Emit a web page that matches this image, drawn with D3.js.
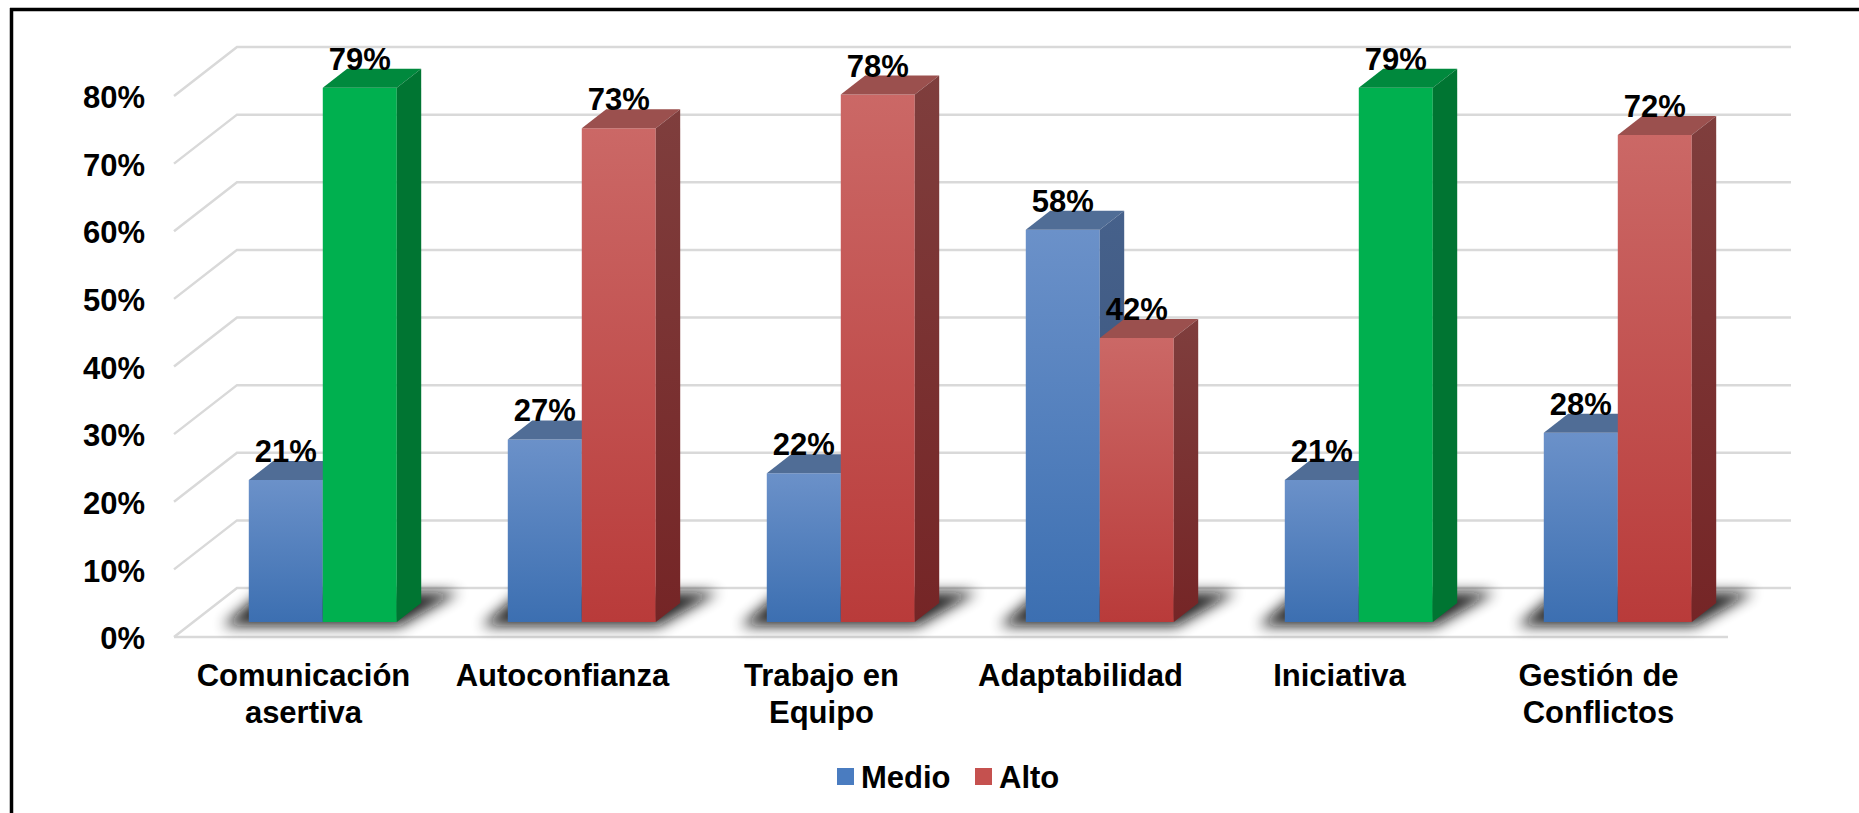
<!DOCTYPE html>
<html>
<head>
<meta charset="utf-8">
<script src="https://cdn.jsdelivr.net/npm/d3@7"></script>
<style>
  html, body { margin: 0; padding: 0; background: #fff; }
  svg { display: block; }
  text { font-family: "Liberation Sans", Arial, sans-serif; font-weight: bold; fill: #000; }
</style>
</head>
<body>
<svg id="chart" width="1859" height="813"></svg>
<script>
// ---- data ----
const categories = ["Comunicación asertiva", "Autoconfianza", "Trabajo en Equipo", "Adaptabilidad", "Iniciativa", "Gestión de Conflictos"];
const seriesNames = ["Medio", "Alto"];
const medio = [21, 27, 22, 58, 21, 28];
const alto  = [79, 73, 78, 42, 79, 72];
const yTicks = [0, 10, 20, 30, 40, 50, 60, 70, 80];

// ---- layout ----
const W = 1859, H = 813;
const FS = 31;
const svg = d3.select("#chart");
const DX = 63, DY = -49;          // full floor depth vector
const F1 = 15 / 49, F2 = 34 / 49; // bar front / back depth fractions

const x = d3.scaleBand().domain(categories).range([174, 1728]).paddingInner(0).paddingOuter(0);
const xs = d3.scaleBand().domain(seriesNames).range([0, x.bandwidth()]).paddingInner(0).paddingOuter(0.75);
const y = d3.scaleLinear().domain([0, 80]).range([637, 96]);

const P = (xf, v, f) => [xf + f * DX, y(v) + f * DY];
const poly = pts => pts.map(p => p.join(",")).join(" ");

// ---- defs ----
const defs = svg.append("defs");
function grad(id, c1, c2) {
  const g = defs.append("linearGradient").attr("id", id).attr("x1", 0).attr("y1", 0).attr("x2", 0).attr("y2", 1);
  g.append("stop").attr("offset", "0%").attr("stop-color", c1);
  g.append("stop").attr("offset", "100%").attr("stop-color", c2);
}
grad("gBlueFront", "#6b91c9", "#3c6fb1");
grad("gBlueSide", "#46618b", "#385279");
grad("gRedFront", "#cb6866", "#b93b3a");
grad("gRedSide", "#7f3e3d", "#752526");
const blur = defs.append("filter").attr("id", "shadowBlur").attr("x", "-50%").attr("y", "-100%").attr("width", "200%").attr("height", "300%");
blur.append("feGaussianBlur").attr("stdDeviation", 7);

// ---- frame ----
svg.append("line").attr("x1", 10).attr("y1", 9.5).attr("x2", W).attr("y2", 9.5).attr("stroke", "#000").attr("stroke-width", 3.5);
svg.append("line").attr("x1", 11.5).attr("y1", 8).attr("x2", 11.5).attr("y2", H).attr("stroke", "#000").attr("stroke-width", 3.5);

// ---- grid (back wall + left side wall + floor) ----
const grid = svg.append("g").attr("stroke", "#d9d9d9").attr("stroke-width", 2.5).attr("fill", "none");
const x0 = x.range()[0], x1 = x.range()[1];
yTicks.forEach(t => {
  const a = P(x0, t, 0), b = P(x0, t, 1), c = P(x1, t, 1);
  grid.append("polyline").attr("points", poly([a, b, c]));
});
{
  const a = P(x0, 0, 0), b = P(x1, 0, 0);
  grid.append("line").attr("x1", a[0]).attr("y1", a[1]).attr("x2", b[0]).attr("y2", b[1]);
}

// ---- y tick labels ----
svg.append("g").selectAll("text").data(yTicks).join("text")
  .attr("x", 145).attr("y", d => y(d) + 1).attr("dy", "0.36em")
  .attr("text-anchor", "end").attr("font-size", FS)
  .text(d => d + "%");

// ---- bars ----
const maxAlto = d3.max(alto);
const rows = categories.map((c, i) => ({ cat: c, values: [medio[i], alto[i]] }));

const shadowG = svg.append("g");
const barsG = svg.append("g");
const labelsG = svg.append("g");

rows.forEach(r => {
  const px0 = x(r.cat) + xs(seriesNames[0]);
  const px1 = x(r.cat) + xs(seriesNames[1]) + xs.bandwidth();
  // shadow on the floor
  const fl = P(px0, 0, F1), fr = P(px1, 0, F1), br = P(px1, 0, F2), bl = P(px0, 0, F2);
  shadowG.append("polygon")
    .attr("points", poly([[fl[0] - 26, fl[1] + 4], [fr[0] + 3, fr[1] + 4], [br[0] + 38, br[1] - 11], [bl[0] - 11, bl[1] - 11]]))
    .attr("fill", "#111").attr("opacity", 0.9).attr("filter", "url(#shadowBlur)");

  r.values.forEach((v, si) => {
    const s = seriesNames[si];
    const bx = x(r.cat) + xs(s), w = xs.bandwidth();
    let front, top, side;
    if (s === "Medio") { front = "url(#gBlueFront)"; top = "#506d96"; side = "url(#gBlueSide)"; }
    else if (v === maxAlto) { front = "#00b04f"; top = "#00893d"; side = "#007532"; }
    else { front = "url(#gRedFront)"; top = "#9b504e"; side = "url(#gRedSide)"; }
    const g = barsG.append("g");
    g.append("polygon").attr("points", poly([P(bx, 0, F1), P(bx + w, 0, F1), P(bx + w, v, F1), P(bx, v, F1)])).attr("fill", front);
    g.append("polygon").attr("points", poly([P(bx, v, F1), P(bx + w, v, F1), P(bx + w, v, F2), P(bx, v, F2)])).attr("fill", top);
    g.append("polygon").attr("points", poly([P(bx + w, 0, F1), P(bx + w, 0, F2), P(bx + w, v, F2), P(bx + w, v, F1)])).attr("fill", side);
    const lp = P(bx + w / 2, v, F2);
    labelsG.append("text").attr("x", lp[0] - (F2 - F1) * DX).attr("y", lp[1] + 1)
      .attr("text-anchor", "middle").attr("font-size", FS).text(v + "%");
  });
});

// ---- category labels ----
const catG = svg.append("g");
categories.forEach(c => {
  const cx = x(c) + x.bandwidth() / 2;
  const words = c.split(" ");
  const t = catG.append("text").attr("font-size", FS).attr("text-anchor", "middle");
  let lines = [], cur = [];
  const probe = catG.append("text").attr("font-size", FS);
  words.forEach(wd => {
    const test = cur.concat([wd]).join(" ");
    probe.text(test);
    if (cur.length && probe.node().getComputedTextLength() > 245) { lines.push(cur.join(" ")); cur = [wd]; }
    else cur.push(wd);
  });
  lines.push(cur.join(" "));
  probe.remove();
  lines.forEach((ln, i) => t.append("tspan").attr("x", cx).attr("y", 686 + i * 37).text(ln));
});

// ---- legend ----
const legend = svg.append("g");
const legendItems = [{ name: "Medio", color: "#4a7cc0", x: 837 }, { name: "Alto", color: "#c5514f", x: 975 }];
legendItems.forEach(it => {
  legend.append("rect").attr("x", it.x).attr("y", 768).attr("width", 17).attr("height", 17).attr("fill", it.color);
  legend.append("text").attr("x", it.x + 24).attr("y", 788).attr("font-size", FS).text(it.name);
});
</script>
</body>
</html>
